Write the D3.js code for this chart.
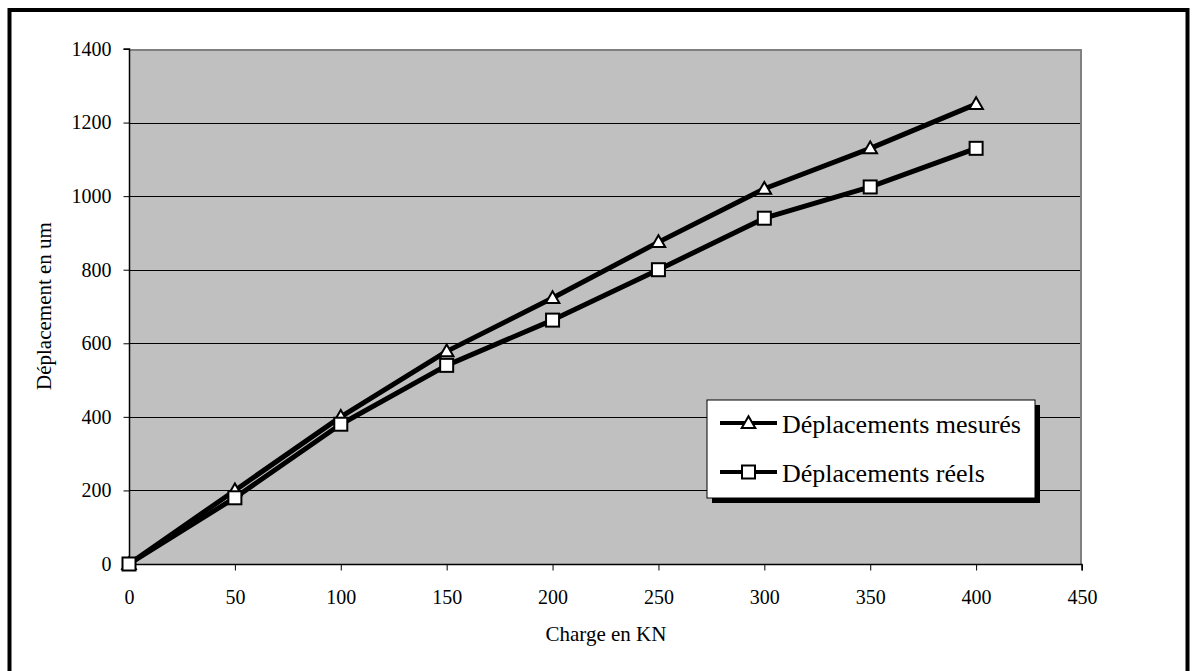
<!DOCTYPE html>
<html><head><meta charset="utf-8">
<script src="https://cdn.jsdelivr.net/npm/d3@7"></script>
<style>body{margin:0;background:#fff}svg{display:block}</style>
</head><body>
<svg id="c" width="1192" height="671"></svg>
<script>
const charges = [0, 50, 100, 150, 200, 250, 300, 350, 400];
const mesures = [0, 200, 400, 578, 723, 875, 1020, 1130, 1250];
const reels   = [0, 180, 380, 540, 663, 800, 940, 1025, 1130];
const seriesNames = ["Déplacements mesurés", "Déplacements réels"];
const xTicks = [0, 50, 100, 150, 200, 250, 300, 350, 400, 450];
const yTicks = [0, 200, 400, 600, 800, 1000, 1200, 1400];
const xTitle = "Charge en KN";
const yTitle = "Déplacement en um";

const svg = d3.select("#c");
const font = "'Liberation Serif','Times New Roman',serif";
const L = 129, R = 1082, T = 49, B = 564;
const x = d3.scaleLinear().domain([0, 450]).range([L, R]);
const y = d3.scaleLinear().domain([0, 1400]).range([B, T]);

// outer frame
svg.append("rect").attr("x", 9.5).attr("y", 10).attr("width", 1178).attr("height", 700)
  .attr("fill", "#fff").attr("stroke", "#000").attr("stroke-width", 4);

// plot background
svg.append("rect").attr("x", L).attr("y", T).attr("width", R - L).attr("height", B - T)
  .attr("fill", "#c0c0c0");

// gridlines
svg.append("g").selectAll("line").data(yTicks.filter(d => d > 0 && d < 1400)).join("line")
  .attr("x1", L).attr("x2", R).attr("y1", d => Math.round(y(d)) + 0.5).attr("y2", d => Math.round(y(d)) + 0.5)
  .attr("stroke", "#000").attr("stroke-width", 1);

// plot border top/right gray
svg.append("path").attr("d", `M${L},${T + 1}H${R - 1}V${B}`).attr("fill", "none")
  .attr("stroke", "#808080").attr("stroke-width", 2);

// axes
const yAxis = d3.axisLeft(y).tickValues(yTicks).tickSize(6).tickPadding(12).tickFormat(d3.format("d"));
const gy = svg.append("g").attr("transform", `translate(${L + 0.5},0)`).call(yAxis);
const xAxis = d3.axisBottom(x).tickValues(xTicks).tickSize(6).tickPadding(19).tickFormat(d3.format("d"));
const gx = svg.append("g").attr("transform", `translate(0,${B + 0.5})`).call(xAxis);
[gx, gy].forEach(g => {
  g.attr("font-family", font).attr("font-size", 20);
  g.select(".domain").attr("stroke", "#000").attr("stroke-width", 1.5);
  g.selectAll(".tick line").attr("stroke", "#000");
  g.selectAll("text").attr("font-family", font).attr("font-size", 20).attr("fill", "#000");
});
gy.select(".domain").attr("d", `M-6,${T}H0V${B}`);
gx.select(".domain").attr("d", `M${L},6V0H${R}V6`);

// titles
svg.append("text").attr("x", 606).attr("y", 641).attr("text-anchor", "middle")
  .attr("font-family", font).attr("font-size", 21).text(xTitle);
svg.append("text").attr("transform", "translate(51,306) rotate(-90)").attr("text-anchor", "middle")
  .attr("font-family", font).attr("font-size", 21).text(yTitle);

// lines
const line = d3.line().x(d => x(d[0])).y(d => y(d[1]));
const data1 = charges.map((c, i) => [c, mesures[i]]);
const data2 = charges.map((c, i) => [c, reels[i]]);
[data1, data2].forEach(dd => {
  svg.append("path").datum(dd).attr("d", line).attr("fill", "none")
    .attr("stroke", "#000").attr("stroke-width", 5).attr("stroke-linejoin", "round");
});

const tri = d3.symbol().type(d3.symbolTriangle).size(80);
function drawTri(g, cx, cy) {
  g.append("path").attr("d", tri()).attr("transform", `translate(${cx},${cy + 1})`)
    .attr("fill", "#fff").attr("stroke", "#000").attr("stroke-width", 2);
}
function drawSq(g, cx, cy) {
  g.append("rect").attr("x", cx - 6.5).attr("y", cy - 6.5).attr("width", 13).attr("height", 13)
    .attr("fill", "#fff").attr("stroke", "#000").attr("stroke-width", 2);
}
const mk = svg.append("g");
data1.forEach(d => drawTri(mk, x(d[0]), y(d[1])));
data2.forEach(d => drawSq(mk, x(d[0]), y(d[1])));

// legend
const lx = 707, ly = 400, lw = 328, lh = 98;
svg.append("rect").attr("x", lx + 5).attr("y", ly + 5).attr("width", lw).attr("height", lh).attr("fill", "#000");
svg.append("rect").attr("x", lx).attr("y", ly).attr("width", lw).attr("height", lh)
  .attr("fill", "#fff").attr("stroke", "#000").attr("stroke-width", 1);
const lg = svg.append("g");
[423, 472].forEach((yy, i) => {
  lg.append("line").attr("x1", 720).attr("x2", 777).attr("y1", yy).attr("y2", yy)
    .attr("stroke", "#000").attr("stroke-width", 4);
  if (i === 0) drawTri(lg, 748.5, yy); else drawSq(lg, 748.5, yy);
  lg.append("text").attr("x", 782).attr("y", yy + 10).attr("font-family", font).attr("font-size", 26)
    .text(seriesNames[i]);
});
</script>
</body></html>
